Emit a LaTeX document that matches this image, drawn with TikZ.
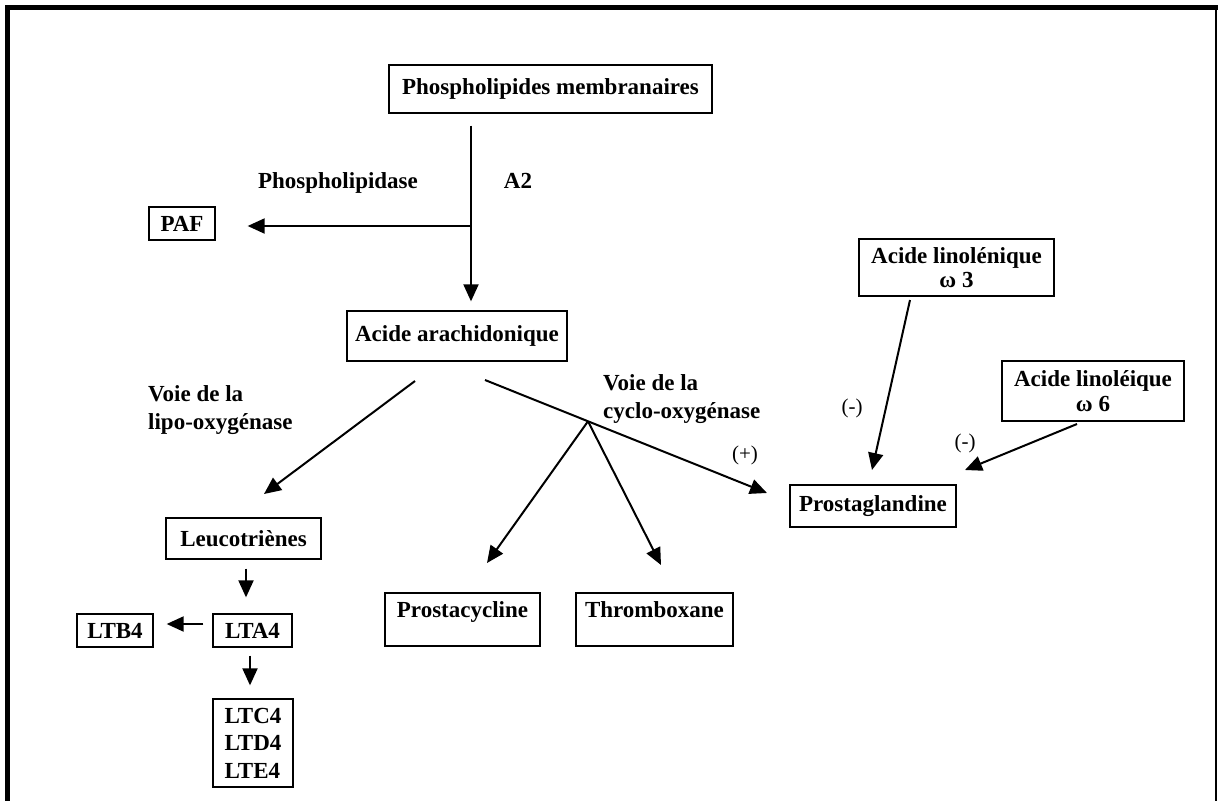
\documentclass[tikz,border=0pt]{standalone}
\usepackage{fontspec}
\setmainfont{Liberation Serif}
\usetikzlibrary{arrows.meta}
\begin{document}
\begin{tikzpicture}[x=1pt,y=-1pt,
  box/.style={draw, line width=1.3pt, inner sep=0pt, font=\bfseries\fontsize{23}{25}\selectfont},
  lbl/.style={inner sep=0pt, font=\bfseries\fontsize{23}{28}\selectfont},
  sgn/.style={inner sep=0pt, font=\fontsize{21}{24}\selectfont},
  arr/.style={line width=2pt, -{Triangle[length=17pt,width=15pt]}},
  ln/.style={line width=2pt}]
\useasboundingbox (0,0) rectangle (1218,801);
% frame
\fill (5,5) rectangle (1218,10);
\fill (5,5) rectangle (10,801);
\fill (1215,5) rectangle (1217,801);

% boxes
\node[box, minimum width=323pt, minimum height=48pt] (phos) at (550.5,89) {Phospholipides membranaires};
\node[box, minimum width=66pt, minimum height=33pt] (paf) at (182,223.5) {PAF};
\node[box, minimum width=220pt, minimum height=50pt] (arach) at (457,336) {Acide arachidonique};
\node[box, minimum width=155pt, minimum height=41pt] (leuco) at (243.5,538.5) {Leucotriènes};
\node[box, minimum width=79pt, minimum height=33pt] (lta) at (252.5,630.5) {LTA4};
\node[box, minimum width=76pt, minimum height=33pt] (ltb) at (115,630.5) {LTB4};
\node[box, minimum width=80pt, minimum height=88pt, align=left, font=\bfseries\fontsize{23}{27.5}\selectfont] (ltc) at (253,743) {LTC4\\LTD4\\LTE4};
\node[box, minimum width=155pt, minimum height=53pt, text height=16pt, text depth=20pt] (pc) at (462.5,619.5) {Prostacycline};
\node[box, minimum width=157pt, minimum height=53pt, text height=16pt, text depth=20pt] (tb) at (654.5,619.5) {Thromboxane};
\node[box, minimum width=166pt, minimum height=42pt] (pg) at (873,506) {Prostaglandine};
\node[box, align=center, minimum width=195pt, minimum height=57pt, font=\bfseries\fontsize{23}{24}\selectfont] (lnn) at (956.5,267.5) {Acide linolénique\\ω 3};
\node[box, align=center, minimum width=182pt, minimum height=60pt, font=\bfseries\fontsize{23}{25}\selectfont] (lnl) at (1093,391) {Acide linoléique\\ω 6};

% labels
\node[lbl, anchor=base] (phl) at (338,188) {Phospholipidase};
\node[lbl, anchor=base] (a2) at (518,188) {A2};
\node[lbl, anchor=north west, align=left] (lipo) at (148,385) {Voie de la\\lipo-oxygénase};
\node[lbl, anchor=north west, align=left] (cyclo) at (603,374) {Voie de la\\cyclo-oxygénase};
\node[sgn] (plus) at (745,455) {(+)};
\node[sgn] (m1) at (852,408) {(-)};
\node[sgn] (m2) at (965,443) {(-)};

% coordinates
\coordinate (j1) at (471,226);
\coordinate (lipoS) at (415,381);
\coordinate (lipoE) at (264,494);
\coordinate (cycS) at (485,380);
\coordinate (cycE) at (767,493);
\coordinate (j2) at (588,421.3);
\coordinate (pcT) at (487,563);
\coordinate (tbT) at (661,565);
\coordinate (l3S) at (910,300);
\coordinate (l3E) at (872,470);
\coordinate (l6S) at (1077,424);
\coordinate (l6E) at (965,470);

% connectors
\draw[arr, shorten <=12pt, shorten >=9pt] (phos.south -| j1) -- (arach.north -| j1);
\draw[arr, shorten >=32pt] (j1) -- (paf.east |- j1);
\draw[arr] (lipoS) -- (lipoE);
\draw[arr] (cycS) -- (cycE);
\draw[arr] (j2) -- (pcT);
\draw[arr] (j2) -- (tbT);
\draw[arr] (l3S) -- (l3E);
\draw[arr] (l6S) -- (l6E);
\draw[arr, shorten <=9pt, shorten >=16pt] ([xshift=2.5pt]leuco.south) -- ([xshift=-6.5pt]lta.north);
\draw[arr, shorten <=9pt, shorten >=13pt] ([yshift=6.5pt]lta.west) -- ([yshift=6.5pt]ltb.east);
\draw[arr, shorten <=8pt, shorten >=13pt] ([xshift=-2.5pt]lta.south) -- ([xshift=-3pt]ltc.north);
\end{tikzpicture}
\end{document}
